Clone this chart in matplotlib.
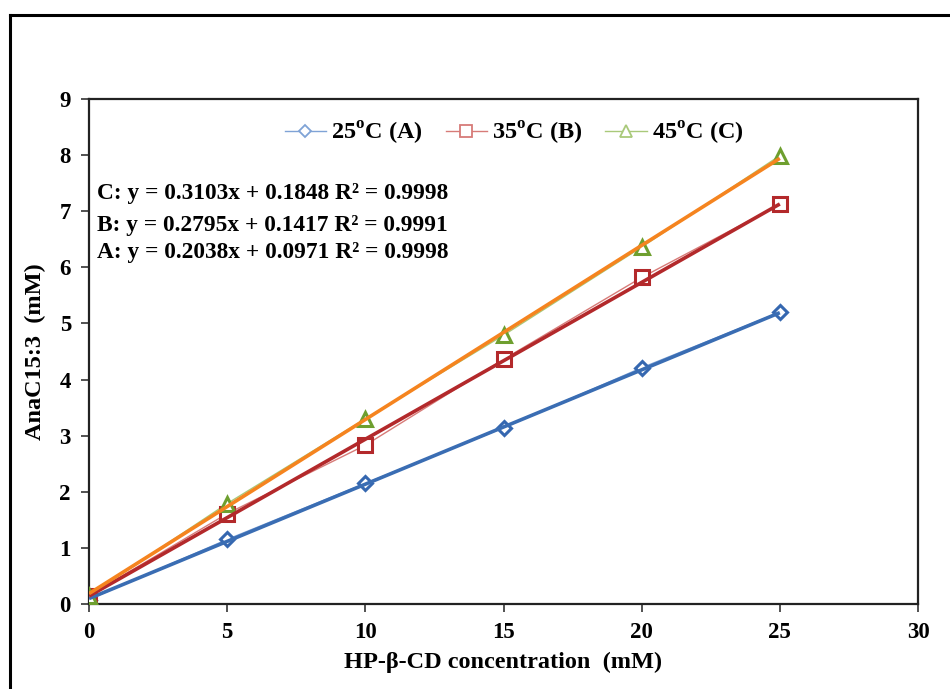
import matplotlib
matplotlib.use("Agg")
import matplotlib.pyplot as plt
from matplotlib.lines import Line2D
import numpy as np

plt.rcParams['font.family'] = ['Liberation Serif', 'DejaVu Serif']
plt.rcParams['font.weight'] = 'bold'
plt.rcParams['mathtext.fontset'] = 'custom'
plt.rcParams['mathtext.rm'] = 'Liberation Serif:bold'
plt.rcParams['mathtext.bf'] = 'Liberation Serif:bold'

# HP-beta-CD concentration (mM)
conc = [0, 5, 10, 15, 20, 25]

# AnaC15:3 solubilised (mM) at each temperature
ana_25 = [0.08, 1.15, 2.15, 3.14, 4.21, 5.20]
ana_35 = [0.15, 1.61, 2.83, 4.36, 5.82, 7.12]
ana_45 = [0.15, 1.79, 3.30, 4.79, 6.36, 7.99]

series_labels = ["25$^{\\mathbf{o}}$C (A)", "35$^{\\mathbf{o}}$C (B)", "45$^{\\mathbf{o}}$C (C)"]
fit_tags = ["A", "B", "C"]

# linear fits: slope, intercept, R^2
fit_slope = [0.2038, 0.2795, 0.3103]
fit_intercept = [0.0971, 0.1417, 0.1848]
fit_r2 = [0.9998, 0.9991, 0.9998]

x_ticks = [0, 5, 10, 15, 20, 25, 30]
y_ticks = [0, 1, 2, 3, 4, 5, 6, 7, 8, 9]

series = [ana_25, ana_35, ana_45]
markers = ["D", "s", "^"]
marker_sizes = [7.5, 10, 10]
legend_marker_sizes = [6.5, 8, 8.5]
line_colors = ["#7fa3d6", "#d77b78", "#a9c97a"]
marker_colors = ["#3567b0", "#b3292b", "#6e9f2f"]
trend_colors = ["#3a6db3", "#b3292b", "#f5841f"]

fig = plt.figure(figsize=(9.5, 6.89), dpi=100)
ax = fig.add_axes([89 / 950, 1 - 604 / 689, (918 - 89) / 950, (604 - 99) / 689])

x_fit = np.array([conc[0], conc[-1]], dtype=float)
for ys, mk, ms, lc, mc, tc, m, b in zip(series, markers, marker_sizes, line_colors,
                                        marker_colors, trend_colors, fit_slope, fit_intercept):
    ax.plot(conc, ys, color=lc, lw=1.0, zorder=2)
    ax.plot(conc, ys, linestyle="none", marker=mk, ms=ms, mfc="white",
            mec=mc, mew=2.2, zorder=3)
    ax.plot(x_fit, m * x_fit + b, color=tc, lw=2.6, zorder=4, solid_capstyle="butt")

ax.set_xlim(0, 30)
ax.set_ylim(0, 9)
ax.set_xticks(x_ticks)
ax.set_yticks(y_ticks)
ax.tick_params(axis="both", direction="out", length=6, width=1.2, color="#333333",
               labelsize=16.5, pad=7)
for lab in ax.get_xticklabels() + ax.get_yticklabels():
    lab.set_fontweight("bold")
for sp in ax.spines.values():
    sp.set_linewidth(1.6)
    sp.set_color("#222222")

ax.set_xlabel("HP-\u03b2-CD concentration  (mM)", fontsize=17.5, fontweight="bold", labelpad=6)
ax.set_ylabel("AnaC15:3  (mM)", fontsize=17.5, fontweight="bold", labelpad=10)

# trendline equations
eq_y = [253, 225, 194]
for tag, m, b, r2, yp in zip(fit_tags, fit_slope, fit_intercept, fit_r2, eq_y):
    fig.text(97 / 950, 1 - yp / 689,
             f"{tag}: y = {m:.4f}x + {b:.4f} R\u00b2 = {r2:.4f}",
             fontsize=16.8, fontweight="bold", va="center", ha="left")

handles = [Line2D([], [], color=lc, lw=1.0, marker=mk, ms=lms, mfc="white", mec=lc, mew=1.3)
           for mk, lms, lc in zip(markers, legend_marker_sizes, line_colors)]
fig.legend(handles, series_labels, loc="center", bbox_to_anchor=(514 / 950, 1 - 133 / 689),
           ncol=3, frameon=False, handlelength=1.7, handletextpad=0.2,
           columnspacing=0.95, prop={"weight": "bold", "size": 17.5})

# outer frame
fig.add_artist(Line2D([10 / 950, 10 / 950], [0, 1 - 15 / 689], color="black", lw=2.2,
                      transform=fig.transFigure))
fig.add_artist(Line2D([10 / 950, 1], [1 - 15 / 689, 1 - 15 / 689], color="black", lw=2.2,
                      transform=fig.transFigure))

fig.savefig("out.png", dpi=100, facecolor="white")
